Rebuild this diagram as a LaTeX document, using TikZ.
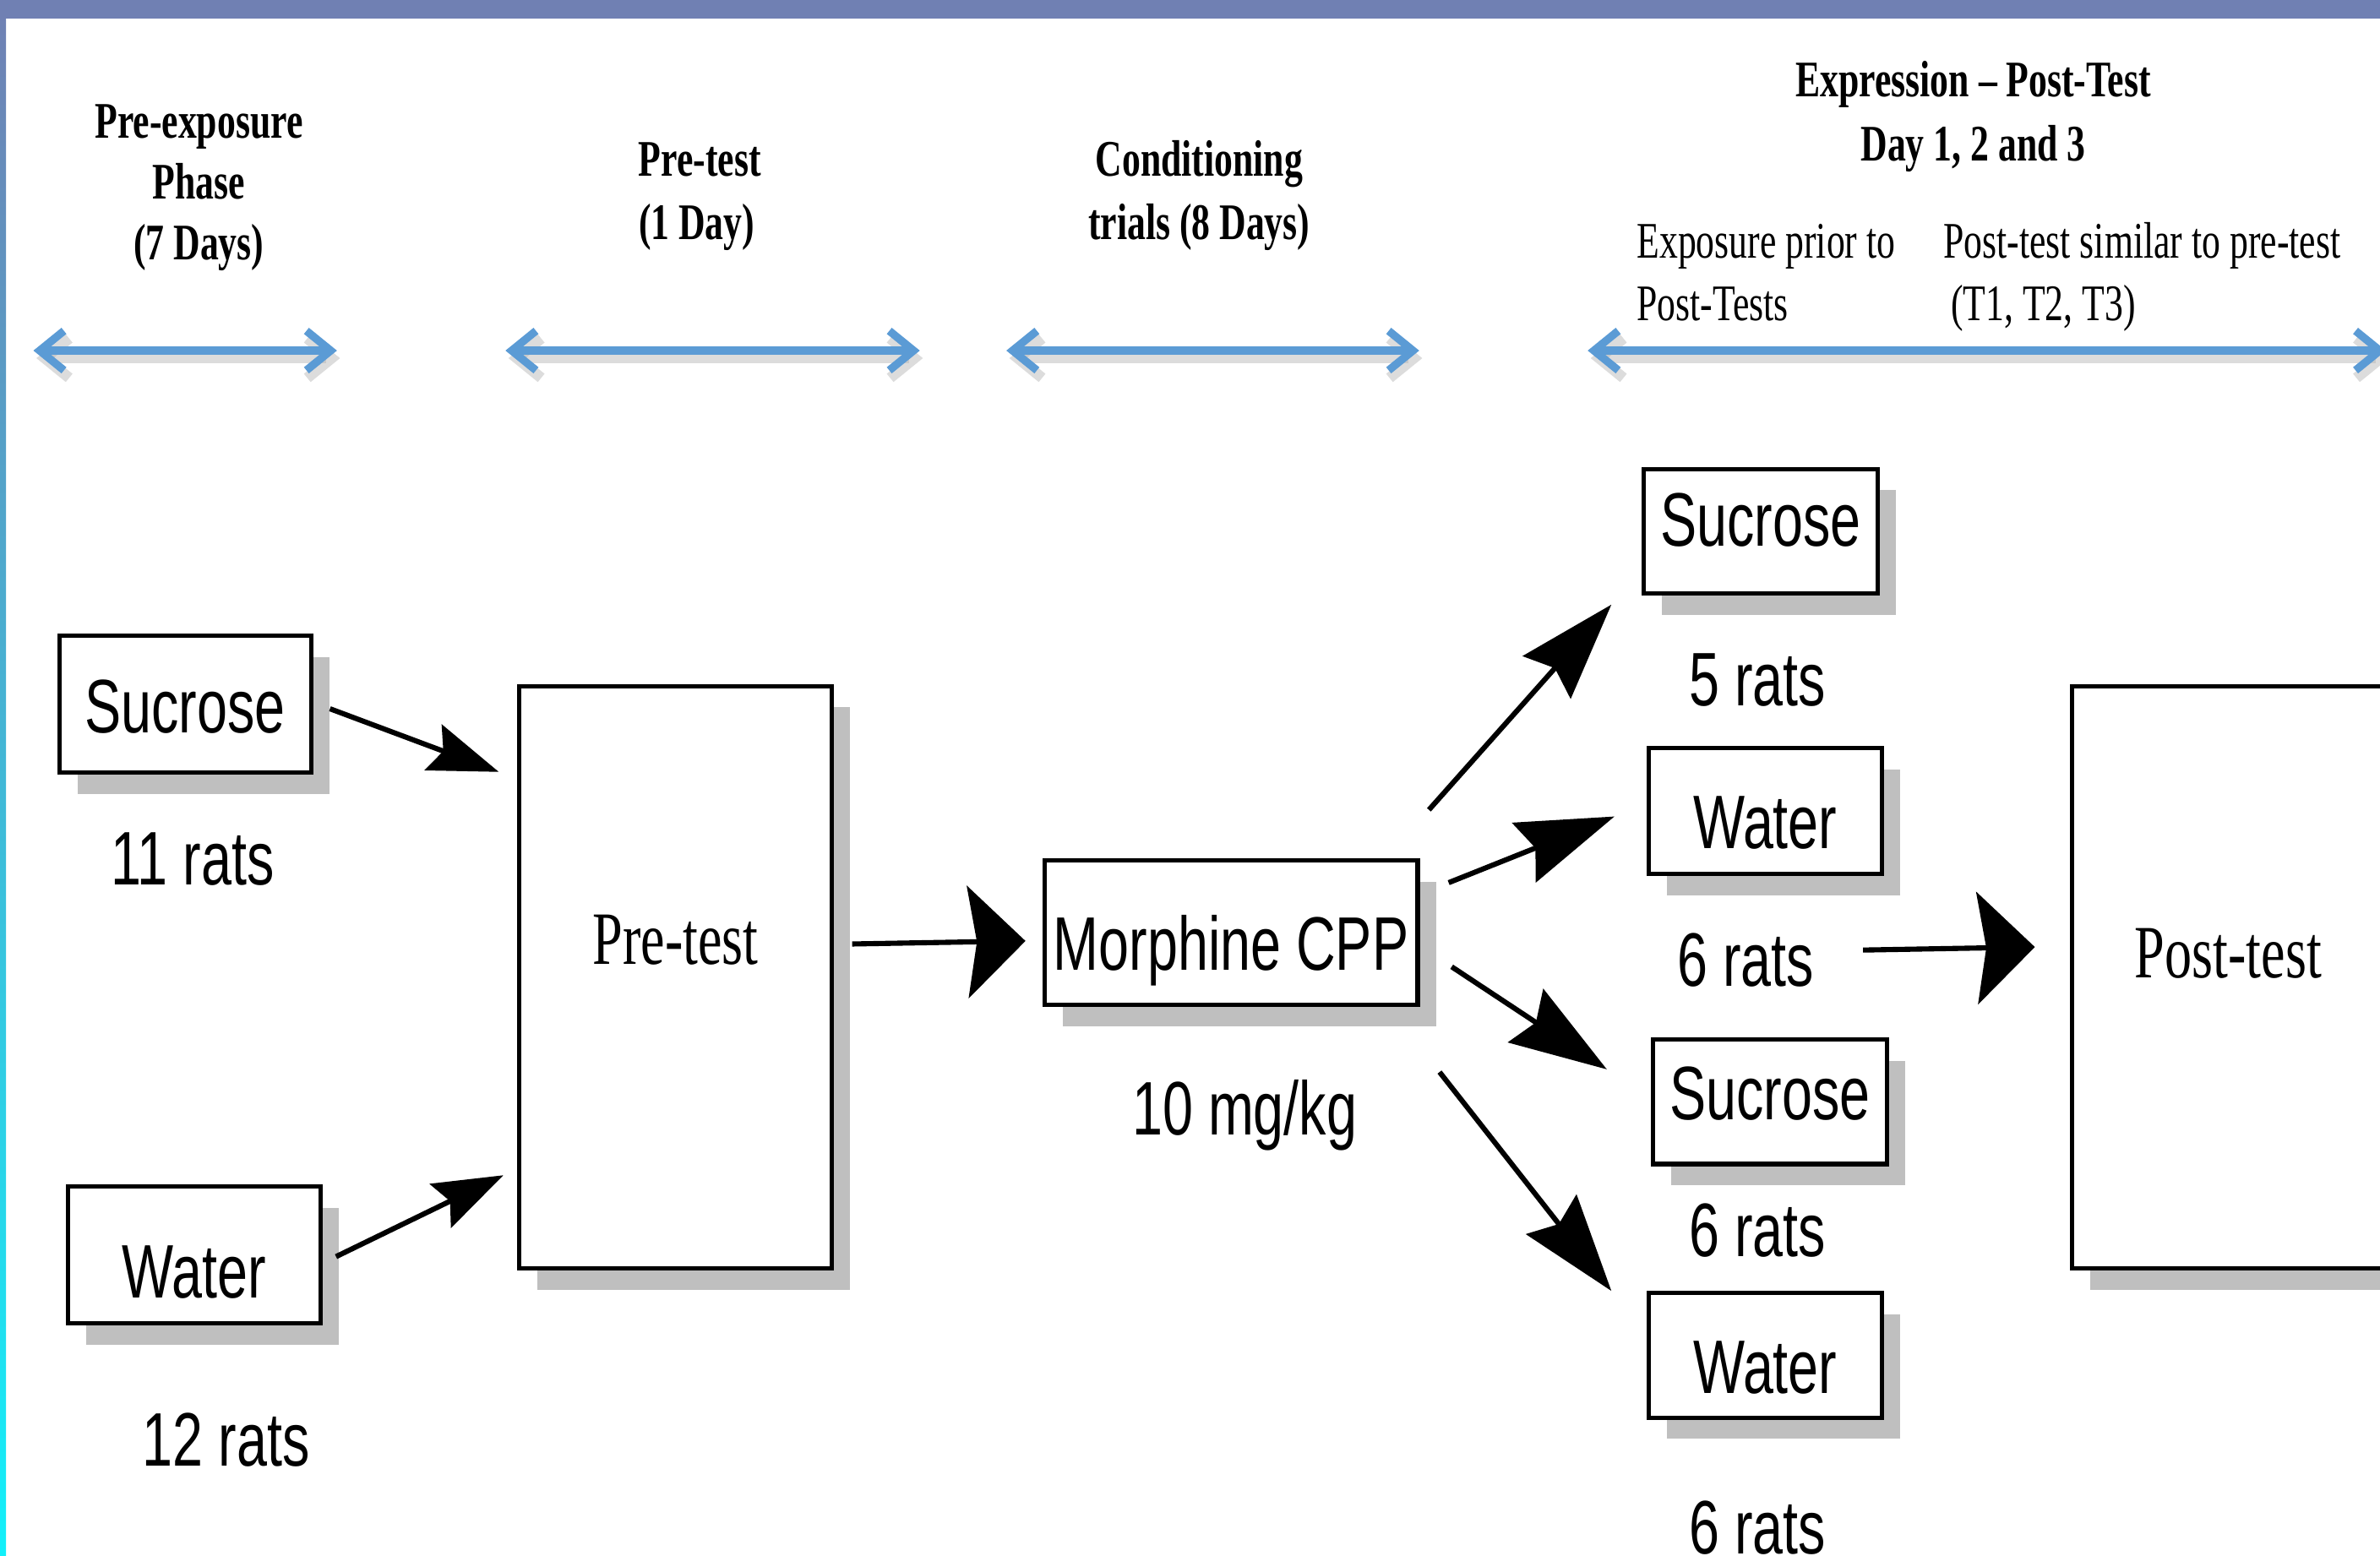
\documentclass[tikz,border=0pt]{standalone}
\usepackage{fontspec}
\newfontfamily\asans[FakeStretch=0.72]{Liberation Sans}
\newfontfamily\aserif[FakeStretch=0.72]{Liberation Serif}
\usetikzlibrary{arrows.meta,shadows}
\definecolor{barcol}{RGB}{112,128,179}
\definecolor{midcol}{RGB}{88,160,206}
\definecolor{cyancol}{RGB}{18,240,250}
\definecolor{bluearr}{RGB}{91,155,213}
\definecolor{shadowgray}{RGB}{191,191,191}
\begin{document}
\begin{tikzpicture}[x=0.5pt,y=-0.5pt,
  box/.style={draw=black, line width=1.4pt, fill=white, inner sep=0pt,
    font=\asans\fontsize{25}{30}\selectfont,
    drop shadow={shadow xshift=6pt, shadow yshift=-7pt, fill=shadowgray, opacity=1}},
  sbox/.style={box, font=\aserif\fontsize{24.8}{30}\selectfont},
  lbl/.style={inner sep=0pt, anchor=base, font=\asans\fontsize{25}{30}\selectfont},
  hdr/.style={inner sep=0pt, anchor=base, font=\aserif\bfseries\fontsize{16.9}{20}\selectfont},
  sub/.style={inner sep=0pt, anchor=base west, font=\aserif\fontsize{16.9}{20}\selectfont},
  phase/.style={draw=bluearr, line width=2.6pt,
    arrows={Straight Barb[length=8pt,width=13pt]-Straight Barb[length=8pt,width=13pt]}},
  phaseshadow/.style={draw=black!30, opacity=0.45, line width=3.5pt,
    arrows={Straight Barb[length=8pt,width=13pt]-Straight Barb[length=8pt,width=13pt]}},
  flowS/.style={draw=black, line width=1.7pt, -{Stealth[length=23pt,width=16pt,inset=3.5pt]}},
  flowL/.style={draw=black, line width=1.7pt, -{Stealth[length=32pt,width=21pt,inset=4pt]}},
  flowW/.style={draw=black, line width=1.7pt, -{Stealth[length=19pt,width=37pt,inset=3pt]}}
]
\useasboundingbox (0,0) rectangle (1568,1025);
\fill[white] (0,0) rectangle (1568,1025);
\shade[top color=barcol, middle color=midcol, bottom color=cyancol] (0,0) rectangle (4,1025);
\fill[barcol] (0,0) rectangle (1568,12.5);

% headers
\node[hdr] (h1a) at (131,91) {Pre-exposure};
\node[hdr] (h1b) at (131,131) {Phase};
\node[hdr] (h1c) at (131,171) {(7 Days)};
\node[hdr] (h2a) at (461,116) {Pre-test};
\node[hdr] (h2b) at (459,158) {(1 Day)};
\node[hdr] (h3a) at (790,116) {Conditioning};
\node[hdr] (h3b) at (790,158) {trials (8 Days)};
\node[hdr] (h4a) at (1300,64) {Expression – Post-Test};
\node[hdr] (h4b) at (1300,106) {Day 1, 2 and 3};
\node[sub] (s4a) at (1078,170) {Exposure prior to};
\node[sub] (s4b) at (1078,211) {Post-Tests};
\node[sub] (s4c) at (1280,170) {Post-test similar to pre-test};
\node[sub] (s4d) at (1285,211) {(T1, T2, T3)};

% phase arrows
\coordinate (p1a) at (22,231);   \coordinate (p1b) at (222,231);
\coordinate (p2a) at (333,231);  \coordinate (p2b) at (606,231);
\coordinate (p3a) at (663,231);  \coordinate (p3b) at (935,231);
\coordinate (p4a) at (1046,231); \coordinate (p4b) at (1572,231);
\foreach \a/\b in {p1a/p1b,p2a/p2b,p3a/p3b,p4a/p4b}{
  \draw[phaseshadow] ([shift={(2,5)}]\a) -- ([shift={(2,5)}]\b);
  \draw[phase] (\a) -- (\b);
}

% boxes
\node[box, minimum width=83pt, minimum height=45pt, text height=19pt, text depth=0pt] (s1) at (122,464) {Sucrose};
\node[box, minimum width=83pt, minimum height=45pt, text height=28pt, text depth=0pt] (w1) at (128,827) {Water};
\node[sbox, minimum width=103pt, minimum height=192pt, text height=0pt, text depth=8.6pt] (pre) at (445,644) {Pre-test};
\node[box, minimum width=123pt, minimum height=47.5pt, text height=24.5pt, text depth=0pt] (mor) at (811,614.5) {Morphine CPP};
\node[box, minimum width=77pt, minimum height=41pt, text height=10pt, text depth=0pt] (s2) at (1160,350) {Sucrose};
\node[box, minimum width=77pt, minimum height=41.5pt, text height=24.5pt, text depth=0pt] (w2) at (1163,534.5) {Water};
\node[box, minimum width=77pt, minimum height=41pt, text height=12pt, text depth=0pt] (s3) at (1166,726) {Sucrose};
\node[box, minimum width=77pt, minimum height=41pt, text height=25pt, text depth=0pt] (w3) at (1163,893) {Water};
\node[sbox, minimum width=103pt, minimum height=192pt, text height=0.4pt, text depth=0pt] (post) at (1468,644) {Post-test};

% labels
\node[lbl] (l11) at (127,583) {11 rats};
\node[lbl] (l12) at (149,966) {12 rats};
\node[lbl] (ldose) at (820,748) {10 mg/kg};
\node[lbl] (l5) at (1158,465) {5 rats};
\node[lbl] (l6a) at (1150,650) {6 rats};
\node[lbl] (l6b) at (1158,828) {6 rats};
\node[lbl] (l6c) at (1158,1024) {6 rats};

% flow arrows
\draw[flowS] ([shift={(11,3)}]s1.east) -- ([shift={(-12,58)}]pre.north west);
\draw[flowS] ([shift={(9,1)}]w1.east) -- ([shift={(-9,-63)}]pre.south west);
\draw[flowW] ([shift={(12,-22)}]pre.east) -- ([shift={(-11,5.5)}]mor.west);
\draw[flowL] ([shift={(6,-32)}]mor.north east) -- ([shift={(-20,6)}]s2.south west);
\draw[flowL] ([shift={(19,16)}]mor.north east) -- ([shift={(-21,3.5)}]w2.west);
\draw[flowL] ([shift={(21,22.5)}]mor.east) -- ([shift={(-29,21)}]s3.north west);
\draw[flowL] ([shift={(13,43)}]mor.south east) -- ([shift={(-23,0)}]w3.north west);
\draw[flowW] ([shift={(32,-24)}]l6a.base east) -- ([shift={(-23,-20)}]post.west);
\end{tikzpicture}
\end{document}
